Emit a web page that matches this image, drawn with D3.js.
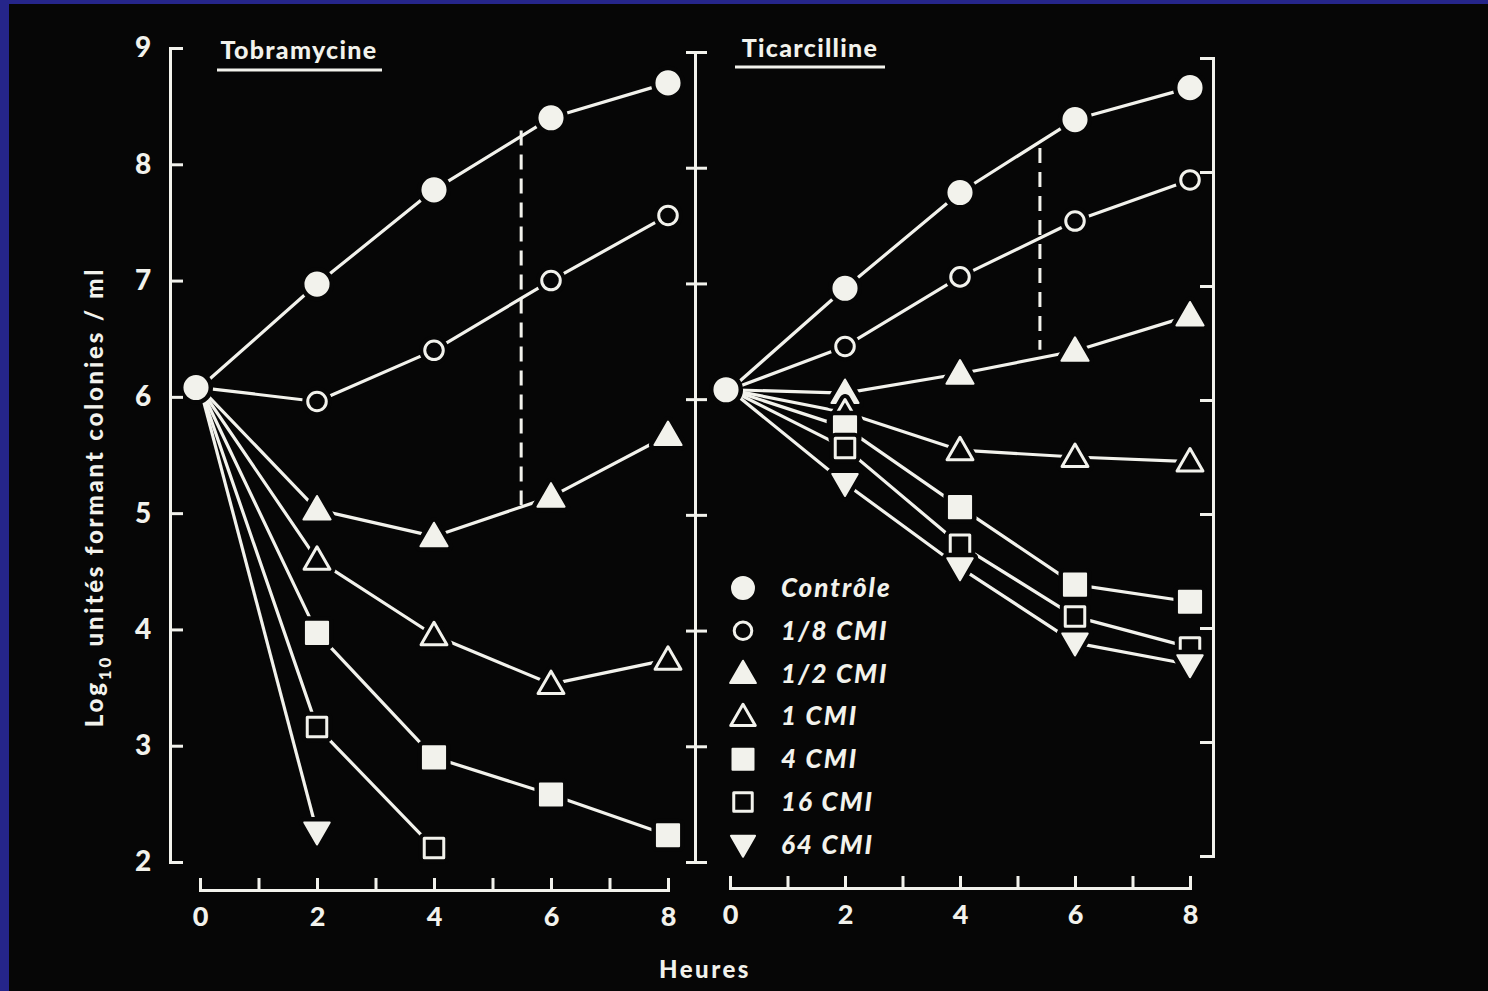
<!DOCTYPE html>
<html>
<head>
<meta charset="utf-8">
<script src="https://cdn.jsdelivr.net/npm/d3@7"></script>
<style>
  html, body { margin: 0; padding: 0; background: #25258a; }
  svg { display: block; }
  text { font-family: Lato, "DejaVu Sans", sans-serif; font-weight: 900; fill: #f2f2ec; }
</style>
</head>
<body>
<svg id="chart" width="1488" height="991"></svg>
<script>
// ---------------- DATA ----------------
const hours = [0, 2, 4, 6, 8];
const seriesNames = ["Contrôle", "1/8 CMI", "1/2 CMI", "1 CMI", "4 CMI", "16 CMI", "64 CMI"];
const yTicks = [2, 3, 4, 5, 6, 7, 8, 9];
const xTicks = [0, 1, 2, 3, 4, 5, 6, 7, 8];
const xTickLabels = [0, 2, 4, 6, 8];
const panelTitles = ["Tobramycine", "Ticarcilline"];
const xAxisTitle = "Heures";

// Tobramycine (log10 UFC/ml at 0,2,4,6,8 h; null = not measured / below limit)
const tobraControle = [6.08, 6.97, 7.78, 8.40, 8.70];
const tobra1_8 = [6.08, 5.96, 6.40, 7.00, 7.56];
const tobra1_2 = [6.08, 5.03, 4.80, 5.14, 5.67];
const tobra1 = [6.08, 4.60, 3.95, 3.53, 3.74];
const tobra4 = [6.08, 3.97, 2.90, 2.58, 2.23];
const tobra16 = [6.08, 3.16, 2.12, null, null];
const tobra64 = [6.08, 2.26, null, null, null];

// Ticarcilline
const ticarControle = [6.09, 6.98, 7.82, 8.46, 8.74];
const ticar1_8 = [6.09, 6.47, 7.08, 7.57, 7.93];
const ticar1_2 = [6.09, 6.06, 6.23, 6.43, 6.74];
const ticar1 = [6.09, 5.89, 5.56, 5.50, 5.46];
const ticar4 = [6.09, 5.76, 5.06, 4.38, 4.23];
const ticar16 = [6.09, 5.58, 4.73, 4.10, 3.83];
const ticar64 = [6.09, 5.27, 4.53, 3.87, 3.68];

// Dashed reference lines: [hour, yTop, yBottom]
const tobraDash = [5.49, 8.29, 5.07];
const ticarDash = [5.39, 8.21, 6.44];

// ---------------- DRAWING ----------------
const W = "#f2f2ec";
const svg = d3.select("#chart");
svg.append("rect").attr("x", 9).attr("y", 4).attr("width", 1479).attr("height", 987).attr("fill", "#060606");

const markerDefs = [
  { type: d3.symbolCircle, size: 420, fill: true, rot: 0 },
  { type: d3.symbolCircle, size: 270, fill: false, rot: 0 },
  { type: d3.symbolTriangle, size: 320, fill: true, rot: 0 },
  { type: d3.symbolTriangle, size: 290, fill: false, rot: 0 },
  { type: d3.symbolSquare, size: 490, fill: true, rot: 0 },
  { type: d3.symbolSquare, size: 380, fill: false, rot: 0 },
  { type: d3.symbolTriangle, size: 280, fill: true, rot: 180 }
];

function drawMarker(g, i, x, y, halo, scale) {
  const m = markerDefs[i];
  const p = d3.symbol().type(m.type).size(m.size * (scale || 1))();
  const dy = m.type === d3.symbolTriangle ? (m.rot ? -2 : 2) : 0;
  const tr = `translate(${x},${y + dy}) rotate(${m.rot})`;
  if (halo) {
    g.append("path").attr("d", p).attr("transform", tr)
      .attr("fill", "#060606").attr("stroke", "#060606").attr("stroke-width", 11)
      .attr("stroke-linejoin", "round");
  }
  g.append("path").attr("d", p).attr("transform", tr)
    .attr("fill", m.fill ? W : "#060606")
    .attr("stroke", W).attr("stroke-width", m.fill ? 2 : 3)
    .attr("stroke-linejoin", "round");
}

function panel(cfg) {
  const x = d3.scaleLinear().domain([0, 8]).range(cfg.xr);
  const y = d3.scaleLinear().domain([2, 9]).range(cfg.yr);
  const g = svg.append("g");

  // x axis (separate, ticks up)
  const xa = g.append("g").attr("transform", `translate(0,${cfg.xAxisY})`)
    .call(d3.axisBottom(x).tickValues(xTicks).tickSizeInner(-12).tickSizeOuter(-12).tickPadding(17)
      .tickFormat(d => xTickLabels.includes(d) ? d : ""));
  xa.selectAll("path, line").attr("stroke", W).attr("stroke-width", 3);
  xa.selectAll("text").attr("font-size", 27).attr("fill", W).style("font-family", "Lato, sans-serif").style("font-weight", "900");

  // dashed line
  const d = cfg.dash;
  g.append("line").attr("x1", x(d[0])).attr("x2", x(d[0])).attr("y1", y(d[1])).attr("y2", y(d[2]))
    .attr("stroke", W).attr("stroke-width", 3).attr("stroke-dasharray", "15,9");

  // lines
  const line = d3.line().defined(v => v[1] !== null).x(v => x(v[0])).y(v => y(v[1]));
  cfg.series.forEach(s => {
    const pts = hours.map((h, k) => [h, s[k]]);
    g.append("path").attr("d", line(pts)).attr("fill", "none").attr("stroke", W)
      .attr("stroke-width", 3.2).attr("stroke-linejoin", "round");
  });
  // markers
  cfg.series.forEach((s, i) => {
    hours.forEach((h, k) => {
      if (s[k] === null) return;
      if (k === 0 && i !== 0) return;
      drawMarker(g, i, x(h) + (k === 0 ? -4 : 0), y(s[k]), true);
    });
  });

  // title
  g.append("text").attr("x", cfg.titleX).attr("y", cfg.titleY).attr("text-anchor", "middle")
    .attr("font-size", 25).attr("letter-spacing", 1.3).text(cfg.title);
  g.append("line").attr("x1", cfg.ul[0]).attr("x2", cfg.ul[1]).attr("y1", cfg.ul[2]).attr("y2", cfg.ul[2])
    .attr("stroke", W).attr("stroke-width", 3);
  return { x, y, g };
}

const left = panel({
  xr: [200, 668], yr: [862, 48], xAxisY: 890,
  series: [tobraControle, tobra1_8, tobra1_2, tobra1, tobra4, tobra16, tobra64],
  dash: tobraDash, title: panelTitles[0], titleX: 299, titleY: 59, ul: [217, 382, 70]
});
const right = panel({
  xr: [730, 1190], yr: [856, 58], xAxisY: 888,
  series: [ticarControle, ticar1_8, ticar1_2, ticar1, ticar4, ticar16, ticar64],
  dash: ticarDash, title: panelTitles[1], titleX: 810, titleY: 57, ul: [735, 885, 67]
});

// left y axis with labels
const ya = svg.append("g").attr("transform", "translate(170,0)")
  .call(d3.axisLeft(left.y).tickValues(yTicks).tickSizeInner(-13).tickSizeOuter(-13).tickPadding(27).tickFormat(d3.format("d")));
ya.selectAll("path, line").attr("stroke", W).attr("stroke-width", 3);
ya.selectAll("text").attr("font-size", 28).attr("text-anchor", "middle").attr("fill", W)
  .style("font-family", "Lato, sans-serif").style("font-weight", "900");

// middle shared axis (ticks both sides)
const midScale = d3.scaleLinear().domain([2, 9]).range([862, 52]);
[["R", 12], ["L", 9]].forEach(([side, len]) => {
  const ax = (side === "R" ? d3.axisRight(midScale) : d3.axisLeft(midScale))
    .tickValues(yTicks).tickSize(len).tickFormat("");
  const gg = svg.append("g").attr("transform", "translate(695,0)").call(ax);
  gg.selectAll("path, line").attr("stroke", W).attr("stroke-width", 3);
});

// right y axis (ticks pointing left)
const ra = svg.append("g").attr("transform", "translate(1213,0)")
  .call(d3.axisRight(right.y).tickValues(yTicks).tickSizeInner(-13).tickSizeOuter(-13).tickFormat(""));
ra.selectAll("path, line").attr("stroke", W).attr("stroke-width", 3);

// legend
const lg = svg.append("g");
const legendY0 = 588, legendStep = 42.8;
seriesNames.forEach((name, i) => {
  const yy = legendY0 + i * legendStep;
  drawMarker(lg, i, 743, yy, false, 0.9);
  lg.append("text").attr("x", 781).attr("y", yy + 9).attr("font-size", 26)
    .attr("font-style", "italic").attr("letter-spacing", 2).text(name);
});

// axis titles
svg.append("text").attr("x", 705).attr("y", 978).attr("text-anchor", "middle")
  .attr("font-size", 24).attr("letter-spacing", 2.5).text(xAxisTitle);

const yl = svg.append("text").attr("transform", "translate(103,497) rotate(-90)")
  .attr("text-anchor", "middle").attr("font-size", 24).attr("letter-spacing", 2.8);
yl.append("tspan").text("Log");
yl.append("tspan").attr("font-size", 17).attr("dy", 8).text("10");
yl.append("tspan").attr("dy", -8).text(" unités formant colonies / ml");
</script>
</body>
</html>
